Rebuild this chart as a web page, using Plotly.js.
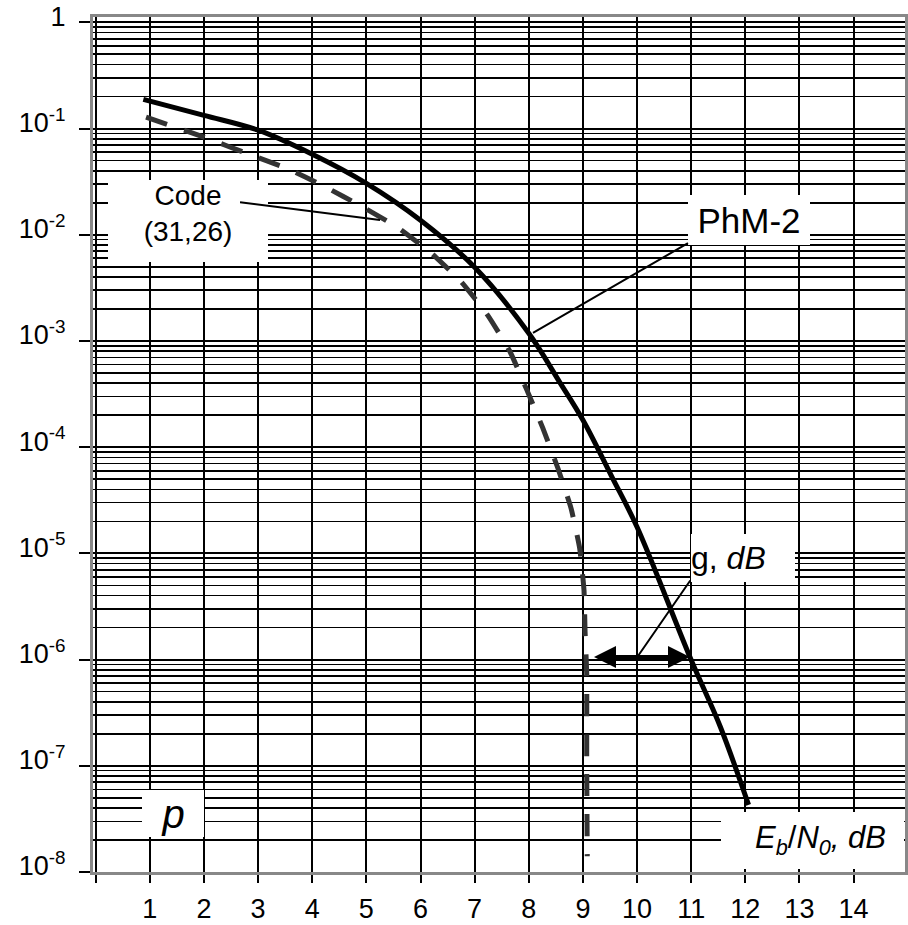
<!DOCTYPE html>
<html>
<head>
<meta charset="utf-8">
<script src="https://cdn.plot.ly/plotly-3.0.1.min.js"></script>
<style>html,body{margin:0;padding:0;background:#fff;}#chart{width:908px;height:925px;}</style>
</head>
<body>
<div id="chart"></div>
<script>
// PhM-2 curve (solid)
var phmX = [0.88, 2, 3, 4, 5, 6, 7, 8, 8.57, 9, 9.54, 10, 11, 11.54, 12.06];
var phmP = [0.188, 0.133, 0.0964, 0.0573, 0.0305, 0.0137, 4.94e-3, 1.18e-3, 4.1e-4, 1.8e-4, 5.2e-5, 1.77e-5, 9.9e-7, 2.32e-7, 4.28e-8];
// Code (31,26) curve (dashed)
var codeX = [0.93, 2.06, 2.78, 3.52, 4.22, 4.91, 5.57, 6.2, 6.76, 7.24, 7.65, 7.96, 8.26, 8.54, 8.78, 8.94, 9.02, 9.04, 9.07, 9.07, 9.08];
var codeP = [0.128, 0.0809, 0.0585, 0.0423, 0.0286, 0.0185, 0.0118, 6.7e-3, 3.57e-3, 1.75e-3, 8.0e-4, 3.5e-4, 1.51e-4, 6.3e-5, 2.67e-5, 1.12e-5, 4.5e-6, 1.82e-6, 7.5e-7, 1.12e-7, 1.41e-8];
// Axis ticks
var xTickVals = [0, 1, 2, 3, 4, 5, 6, 7, 8, 9, 10, 11, 12, 13, 14];
var xTickText = [' ', '1', '2', '3', '4', '5', '6', '7', '8', '9', '10', '11', '12', '13', '14'];
var yTickVals = [1, 1e-1, 1e-2, 1e-3, 1e-4, 1e-5, 1e-6, 1e-7, 1e-8];
var yTickText = ['1', '10<sup>-1</sup>', '10<sup>-2</sup>', '10<sup>-3</sup>', '10<sup>-4</sup>', '10<sup>-5</sup>', '10<sup>-6</sup>', '10<sup>-7</sup>', '10<sup>-8</sup>'];
// Labels
var labelCode = 'Code<br>(31,26)';
var labelPhm = 'PhM-2';
var labelGain = 'g, <i>dB</i>';
var labelP = '<i>p</i>';
var labelX = '<i>E<sub>b</sub></i>/<i>N<sub>0</sub>, dB</i>';

var FONT = 'Liberation Sans, Arial, Helvetica, sans-serif';

var traces = [
  {x: phmX, y: phmP, type: 'scatter', mode: 'lines',
   line: {color: '#000', width: 5, shape: 'spline', smoothing: 1}, hoverinfo: 'skip'},
  {x: codeX, y: codeP, type: 'scatter', mode: 'lines',
   line: {color: '#333', width: 5, dash: '22px,18px', shape: 'spline', smoothing: 0.4}, hoverinfo: 'skip'}
];

function box(x, ylog, w, h, text, size, align, valign) {
  return {x: x, y: ylog, xref: 'x', yref: 'y', text: text, showarrow: false,
    width: w, height: h, bgcolor: '#fff', borderpad: 0, borderwidth: 0,
    font: {family: FONT, size: size, color: '#000'}, align: align || 'center', valign: valign || 'middle'};
}
function label(x, ylog, text, size) {
  return {x: x, y: ylog, xref: 'x', yref: 'y', text: text, showarrow: false,
    font: {family: FONT, size: size, color: '#000'}};
}
function leader(x0, y0, x1, y1) {
  return {x: x1, y: y1, ax: x0, ay: y0, xref: 'x', yref: 'y', axref: 'x', ayref: 'y',
    text: ' ', showarrow: true, arrowhead: 0, arrowwidth: 2, arrowcolor: '#000', standoff: 0, startstandoff: 0,
    font: {size: 2}};
}

var annotations = [
  box(1.705, -1.871, 160, 82, labelCode, 28, 'center', 'top'),
  box(12.07, -1.861, 122, 50, labelPhm, 35),
  box(11.96, -5.044, 104, 48, labelGain, 32, 'left'),
  box(1.428, -7.445, 62, 47, labelP, 40),
  box(13.25, -7.699, 183, 57, ' ', 10),
  label(13.38, -7.70, labelX, 31),
  leader(2.629, -1.692, 5.252, -1.861),
  leader(10.978, -2.068, 8.078, -2.925),
  leader(11.015, -5.232, 10.018, -5.966),
  {x: 10.978, y: -5.976, ax: 9.168, ay: -5.976, xref: 'x', yref: 'y', axref: 'x', ayref: 'y',
   text: ' ', font: {size: 2}, showarrow: true, arrowside: 'end+start', arrowhead: 2, startarrowhead: 2,
   arrowsize: 1.1, startarrowsize: 1.1, arrowwidth: 4, arrowcolor: '#000', standoff: 0, startstandoff: 0}
];

var layout = {
  width: 908, height: 925,
  margin: {l: 93, r: 3, t: 17, b: 53},
  paper_bgcolor: '#fff', plot_bgcolor: '#fff',
  showlegend: false,
  font: {family: FONT, size: 27, color: '#000'},
  xaxis: {
    range: [-0.05, 14.95], tickmode: 'array', tickvals: xTickVals, ticktext: xTickText,
    ticks: 'outside', ticklen: 8, tickwidth: 2, tickcolor: '#000',
    showgrid: true, gridcolor: '#000', gridwidth: 2, zeroline: false,
    showline: true, linecolor: '#888', linewidth: 3, mirror: true,
    ticklabelstandoff: 3,
    tickfont: {family: FONT, size: 27, color: '#000'}
  },
  yaxis: {
    type: 'log', range: [-8, 0.05], tickmode: 'array', tickvals: yTickVals, ticktext: yTickText,
    ticks: 'outside', ticklen: 11, tickwidth: 2, tickcolor: '#000',
    showgrid: true, gridcolor: '#000', gridwidth: 2, zeroline: false,
    showline: true, linecolor: '#888', linewidth: 3, mirror: true,
    ticklabelstandoff: 8, ticklabelshift: -6,
    minor: {dtick: 'D1', showgrid: true, gridcolor: '#000', gridwidth: 1.6},
    tickfont: {family: FONT, size: 27, color: '#000'}
  },
  annotations: annotations
};

Plotly.newPlot('chart', traces, layout, {staticPlot: true, displayModeBar: false});
</script>
</body>
</html>
